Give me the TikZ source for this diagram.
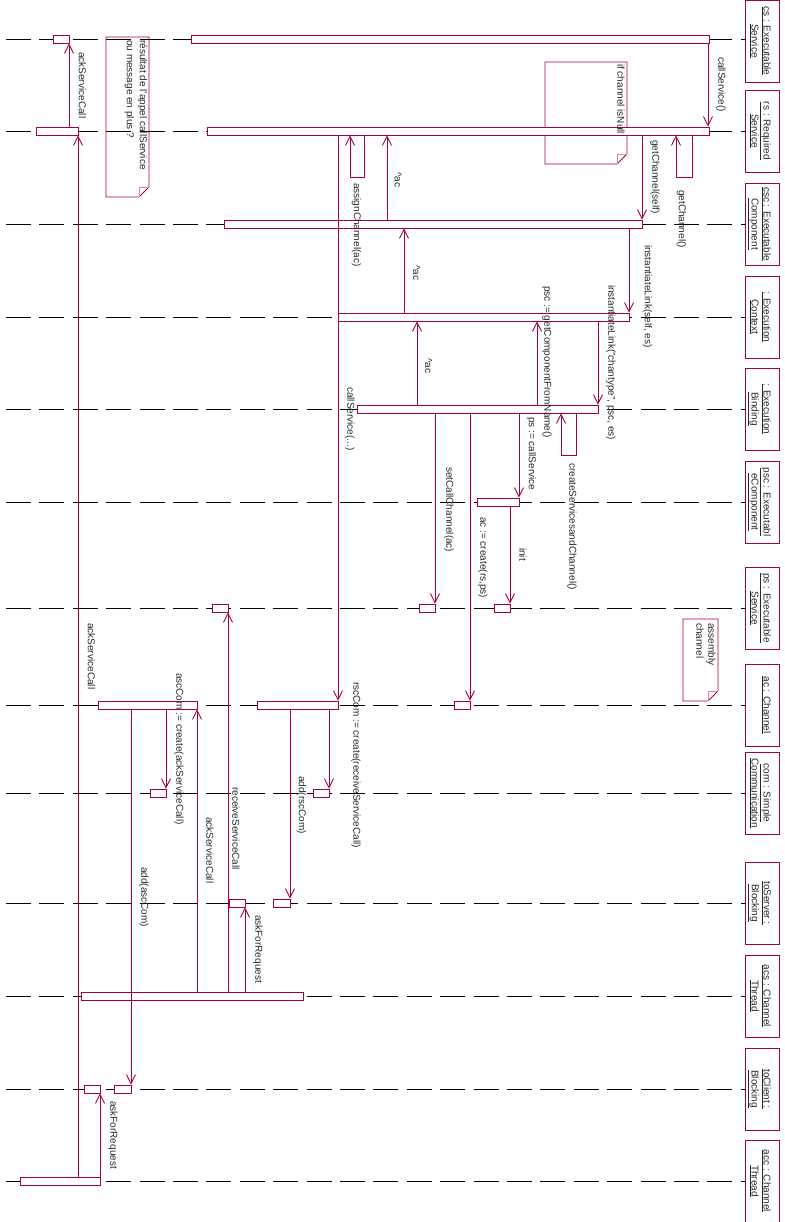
\documentclass[tikz,border=0pt]{standalone}
\usepackage{fontspec}
\setmainfont{Liberation Sans}
\usetikzlibrary{arrows.meta,fit}
\definecolor{umlred}{RGB}{165,0,70}
\definecolor{txt}{RGB}{40,40,40}
\newcommand\mkbar[4]{\node[actbar, fit={(#2,#4-4) (#3,#4+4)}] (#1) {};}
\begin{document}
\begin{tikzpicture}[x=1pt,y=-1pt,
  font=\fontsize{10}{12}\selectfont,
  lifeline/.style={black, line width=0.8pt, dash pattern=on 25pt off 8.4pt},
  actbar/.style={draw=umlred, fill=white, line width=0.9pt, inner sep=0pt, rectangle},
  msg/.style={draw=umlred, line width=0.9pt, -{Straight Barb[length=9pt,width=9pt,line width=0.9pt]}},
  lbl/.style={rotate=-90, anchor=west, inner sep=0pt, text=txt},
  objbox/.style={draw=umlred, line width=0.9pt, rotate=-90, minimum width=82pt, minimum height=34pt, inner sep=0pt},
  objtxt/.style={rotate=-90, anchor=north, align=center, inner sep=0pt, text=txt},
  notebox/.style={draw=umlred, line width=0.9pt},
  fold/.style={draw=umlred!45, line width=0.7pt}]
\useasboundingbox (0,0) rectangle (784,1222);

% object boxes
\node[objbox] (o1) at (762,41) {};
\node[objbox] (o2) at (762,131) {};
\node[objbox] (o3) at (762,224) {};
\node[objbox] (o4) at (762,317) {};
\node[objbox] (o5) at (762,409) {};
\node[objbox] (o6) at (762,502) {};
\node[objbox] (o7) at (762,608) {};
\node[objbox] (o8) at (762,705) {};
\node[objbox] (o9) at (762,793) {};
\node[objbox] (o10) at (762,903) {};
\node[objbox] (o11) at (762,996) {};
\node[objbox] (o12) at (762,1089) {};
\node[objbox] (o13) at (762,1181) {};
\node[objtxt] (ot1) at (771,41) {\underline{cs : Executable}\\\underline{Service}};
\node[objtxt] (ot2) at (771,131) {\underline{rs : Required}\\\underline{Service}};
\node[objtxt] (ot3) at (771,224) {\underline{csc : Executable}\\\underline{Component}};
\node[objtxt] (ot4) at (771,317) {\underline{: Execution}\\\underline{Context}};
\node[objtxt] (ot5) at (771,409) {\underline{: Execution}\\\underline{Binding}};
\node[objtxt] (ot6) at (771,502) {\underline{psc : Executabl}\\\underline{eComponent}};
\node[objtxt] (ot7) at (771,608) {\underline{ps : Executable}\\\underline{Service}};
\node[objtxt] (ot8) at (771,705) {\underline{ac : Channel}};
\node[objtxt] (ot9) at (771,793) {\underline{com : Simple}\\\underline{Communication}};
\node[objtxt] (ot10) at (771,903) {\underline{toServer :}\\\underline{Blocking}};
\node[objtxt] (ot11) at (771,996) {\underline{acs : Channel}\\\underline{Thread}};
\node[objtxt] (ot12) at (771,1089) {\underline{toClient :}\\\underline{Blocking}};
\node[objtxt] (ot13) at (771,1181) {\underline{acc : Channel}\\\underline{Thread}};

% lifelines
\coordinate (s1) at (6,39);
\coordinate (s2) at (6,131);
\coordinate (s3) at (6,224);
\coordinate (s4) at (6,317);
\coordinate (s5) at (6,409);
\coordinate (s6) at (6,502);
\coordinate (s7) at (6,608);
\coordinate (s8) at (6,705);
\coordinate (s9) at (6,793);
\coordinate (s10) at (6,903);
\coordinate (s11) at (6,996);
\coordinate (s12) at (6,1089);
\coordinate (s13) at (6,1181);
\draw[lifeline] (s1) -- (s1 -| o1.south);
\foreach \i in {2,...,13} {\draw[lifeline] (s\i) -- (o\i.south);}

% notes
\draw[notebox] (106,37) -- (149,37) -- (149,187) -- (139,197) -- (106,197) -- cycle;
\draw[fold] (149,187) -- (139,187) -- (139,197);
\draw[notebox] (545,62) -- (627,62) -- (627,154) -- (617,164) -- (545,164) -- cycle;
\draw[fold] (627,154) -- (617,154) -- (617,164);
\draw[notebox] (683,619) -- (718,619) -- (718,691) -- (708,701) -- (683,701) -- cycle;
\draw[fold] (718,691) -- (708,691) -- (708,701);

% activation bars
\mkbar{b1a}{53}{69}{39}
\mkbar{b1b}{191}{709}{39}
\mkbar{b2a}{36}{78}{131}
\mkbar{b2b}{207}{709}{131}
\mkbar{b3}{224}{642}{224}
\mkbar{b4}{338}{629}{317}
\mkbar{b5}{357}{598}{409}
\mkbar{b6}{477}{519}{502}
\mkbar{b7a}{212}{228}{608}
\mkbar{b7b}{419}{435}{608}
\mkbar{b7c}{494}{510}{608}
\mkbar{b8a}{98}{197}{705}
\mkbar{b8b}{257}{338}{705}
\mkbar{b8c}{454}{470}{705}
\mkbar{b9a}{150}{166}{793}
\mkbar{b9b}{313}{329}{793}
\mkbar{b10a}{229}{245}{903}
\mkbar{b10b}{273}{290}{903}
\mkbar{b11}{81}{303}{996}
\mkbar{b12a}{84}{100}{1089}
\mkbar{b12b}{114}{131}{1089}
\mkbar{b13}{20}{100}{1181}

% messages
\draw[msg] (69,0 |- b2a.north) -- (69,0 |- b1a.south);
\draw[msg] (708,0 |- b1b.south) -- (708,0 |- b2b.north);
\draw[msg] (692,0 |- b2b.south) -- (692,177) -- (676,177) -- (676,0 |- b2b.south);
\draw[msg] (642,0 |- b2b.south) -- (642,0 |- b3.north);
\draw[msg] (364,0 |- b2b.south) -- (364,177) -- (350,177) -- (350,0 |- b2b.south);
\draw[msg] (387,0 |- b3.north) -- (387,0 |- b2b.south);
\draw[msg] (629,0 |- b3.south) -- (629,0 |- b4.north);
\draw[msg] (404,0 |- b4.north) -- (404,0 |- b3.south);
\draw[msg] (338,0 |- b2b.south) -- (338,0 |- b8b.north);
\draw[msg] (598,0 |- b4.south) -- (598,0 |- b5.north);
\draw[msg] (537,0 |- b5.north) -- (537,0 |- b4.south);
\draw[msg] (417,0 |- b5.north) -- (417,0 |- b4.south);
\draw[msg] (576,0 |- b5.south) -- (576,455) -- (561,455) -- (561,0 |- b5.south);
\draw[msg] (519,0 |- b5.south) -- (519,0 |- b6.north);
\draw[msg] (435,0 |- b5.south) -- (435,0 |- b7b.north);
\draw[msg] (470,0 |- b5.south) -- (470,0 |- b8c.north);
\draw[msg] (510,0 |- b6.south) -- (510,0 |- b7c.north);
\draw[msg] (228,0 |- b11.north) -- (228,0 |- b7a.south);
\draw[msg] (245,0 |- b11.north) -- (245,0 |- b10a.south);
\draw[msg] (166,0 |- b8a.south) -- (166,0 |- b9a.north);
\draw[msg] (197,0 |- b11.north) -- (197,0 |- b8a.south);
\draw[msg] (131,0 |- b8a.south) -- (131,0 |- b12b.north);
\draw[msg] (329,0 |- b8b.south) -- (329,0 |- b9b.north);
\draw[msg] (290,0 |- b8b.south) -- (290,0 |- b10b.north);
\draw[msg] (78,0 |- b13.north) -- (78,0 |- b2a.south);
\draw[msg] (100,0 |- b13.north) -- (100,0 |- b12a.south);

% labels
\node[lbl] (t1) at (721,57) {callService()};
\node[lbl] (t2) at (82.5,52) {ackServiceCall};
\node[lbl] (t3) at (142.5,40) {résultat de l'appel callService};
\node[lbl] (t4) at (129.5,40) {ou message en plus ?};
\node[lbl] (t5) at (621,64) {if channel isNull};
\node[lbl] (t6) at (655,140) {getChannel(self)};
\node[lbl] (t7) at (681.5,190) {getChannel()};
\node[lbl] (t8) at (356.5,183) {assignChannel(ac)};
\node[lbl] (t9) at (398,172) {\textasciicircum ac};
\node[lbl] (t10) at (416.5,265) {\textasciicircum ac};
\node[lbl] (t11) at (647.5,245) {instantiateLink(self, es)};
\node[lbl] (t12) at (611,285) {instantiateLink("chantype", psc, es)};
\node[lbl] (t13) at (547,286) {psc := getComponentFromName()};
\node[lbl] (t14) at (428.5,358) {\textasciicircum ac};
\node[lbl] (t15) at (350,387) {callService(...)};
\node[lbl] (t16) at (531.5,417) {ps := callService};
\node[lbl] (t17) at (572,463) {createServicesandChannel()};
\node[lbl] (t18) at (449,467) {setCallChannel(ac)};
\node[lbl] (t19) at (483,517) {ac := create(rs,ps)};
\node[lbl] (t20) at (523,548) {init};
\node[lbl] (t21) at (711,623) {assembly};
\node[lbl] (t22) at (700,623) {channel};
\node[lbl] (t23) at (91.5,623) {ackServiceCall};
\node[lbl] (t24) at (179,673) {ascCom := create(ackServiceCall)};
\node[lbl] (t25) at (356,682) {rscCom := create(receiveServiceCall)};
\node[lbl] (t26) at (301.5,776) {add(rscCom)};
\node[lbl] (t27) at (236,787) {receiveServiceCall};
\node[lbl] (t28) at (210,817) {ackServiceCall};
\node[lbl] (t29) at (144,867) {add(ascCom)};
\node[lbl] (t30) at (258,915) {askForRequest};
\node[lbl] (t31) at (113,1101) {askForRequest};
\end{tikzpicture}
\end{document}
